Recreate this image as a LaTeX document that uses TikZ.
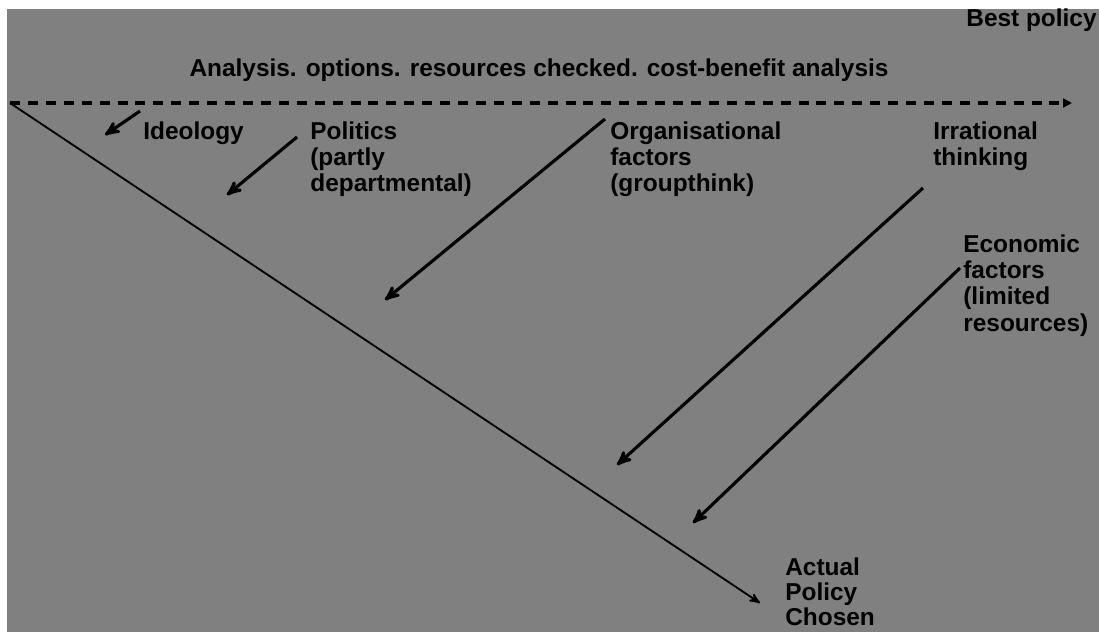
\documentclass[tikz,border=0pt]{standalone}
\usepackage{fontspec}
\setmainfont{Liberation Sans}
\usetikzlibrary{arrows, arrows.meta, positioning}
\definecolor{slate}{RGB}{128,128,128}

\begin{document}
\begin{tikzpicture}[>=stealth', x=0.02cm, y=-0.02cm, font=\fontsize{13.9}{15}\selectfont\bfseries]
    \tikzset{factor/.style={->,line width=1.8pt}}
    \tikzset{label/.style={align=left,inner sep=0pt,anchor=north west}}
    \useasboundingbox (0,0) rectangle (1099,632);
    \fill[white] (0,0) rectangle (1099,632);
    \fill[slate] (7,9) rectangle (1099,632);

    \node[inner sep=0pt,anchor=east] (Best) at (1097,20) {Best policy};
    \node[inner sep=0pt] (Analysis) at (539,70) {Analysis. options. resources checked. cost-benefit analysis};

    \coordinate (Start) at (10,103);
    \coordinate (Best_E) at (1072,103);
    \coordinate (Actual_E) at (760,603);
    \draw[line width=2pt,dash pattern=on 5.7pt off 4.5pt,-{Triangle[length=5pt,width=5pt]}] (Start) -- (Best_E);
    \draw[->,line width=1.1pt] (Start) -- (Actual_E);

    \node[label] (Ideo) at (143,121) {Ideology};
    \node[label] (Pol) at (310,121) {Politics\\(partly\\departmental)};
    \node[label] (Org) at (610,121) {Organisational\\factors\\(groupthink)};
    \node[label] (Irr) at (933,121) {Irrational\\thinking};
    \node[label] (Eco) at (963,234) {Economic\\factors\\(limited\\resources)};
    \node[label,font=\fontsize{13.9}{14.4}\selectfont\bfseries] (Actual) at (785,557) {Actual\\Policy\\Chosen};

    \coordinate (Ideo_S) at (140,111);
    \coordinate (Ideo_E) at (105,135);
    \coordinate (Pol_S) at (297,137);
    \coordinate (Pol_E) at (227,195);
    \coordinate (Org_S) at (605,119);
    \coordinate (Org_E) at (385,300);
    \coordinate (Irr_S) at (923,188);
    \coordinate (Irr_E) at (617,465);
    \coordinate (Eco_S) at (960,268);
    \coordinate (Eco_E) at (693,523);

    \path (Ideo_S) edge [factor] (Ideo_E);
    \path (Pol_S) edge [factor] (Pol_E);
    \path (Org_S) edge [factor] (Org_E);
    \path (Irr_S) edge [factor] (Irr_E);
    \path (Eco_S) edge [factor] (Eco_E);

\end{tikzpicture}
\end{document}
